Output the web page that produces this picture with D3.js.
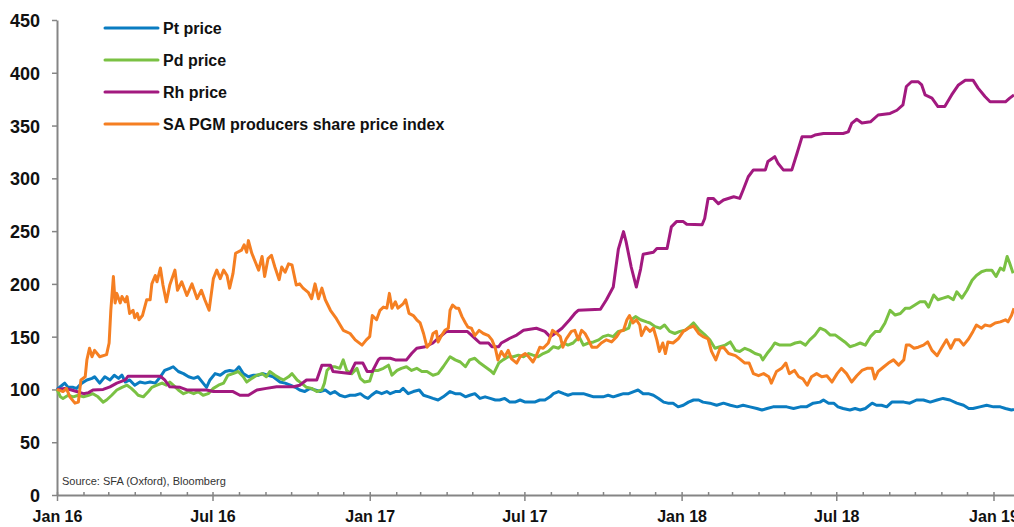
<!DOCTYPE html>
<html>
<head>
<meta charset="utf-8">
<script src="https://cdn.jsdelivr.net/npm/d3@7"></script>
<style>
  body { margin: 0; background: #fff; }
  svg { display: block; }
</style>
</head>
<body>
<div id="chart"></div>
<script>
// data: [days since 1 Jan 2016, index value (Jan 16 = 100)]
const ptPrice = [[0,100],[6,104],[9,106],[13,102],[19,102],[23,101],[29,106],[35,109],[41,110.5],[44,112],[50,106],[56,112],[62,109],[67,113.5],[72,110.5],[76,113.5],[80,107],[85,109],[91,104],[97,107],[103,106],[109,107],[115,106],[121,112],[126,118],[132,120],[136,121.5],[142,117],[148,115],[154,112],[160,110.5],[165,112],[171,106],[175,102],[179,109],[185,115],[191,113.5],[197,117],[202,118],[208,117],[213,121.5],[218,115],[224,112],[230,113.5],[236,113.5],[241,115],[247,113.5],[253,112],[261,107],[267,106],[273,104],[279,102],[284,99.5],[290,98],[296,101],[302,99.5],[308,98],[314,99.5],[320,96],[325,98],[331,94.5],[337,93],[343,94.5],[349,94.5],[355,96],[360,93],[364,91.5],[368,94.5],[374,98],[380,96],[386,98],[390,96],[396,98],[401,98],[405,101],[411,96],[417,98],[424,99.5],[429,94.5],[435,93],[440,91.5],[446,90],[452,93],[460,98],[466,96],[472,96],[478,93],[483,94.5],[489,96],[495,91.5],[501,93],[507,91.5],[513,90],[518,90],[524,91.5],[530,88],[536,88],[542,90],[548,88],[554,88],[559,88],[565,90],[571,90],[577,93],[581,96],[587,98],[593,96],[598,94.5],[604,96],[610,96],[616,96],[622,94.5],[628,93],[634,93],[639,93],[645,94.5],[651,93],[657,94.5],[663,96],[669,96],[675,98],[680,99.5],[686,96],[692,96],[698,94.5],[704,91.5],[710,88],[715,87],[721,87],[727,83.5],[733,85],[739,88],[745,90],[751,90],[756,88],[764,87],[772,85],[780,87],[788,85],[796,83.5],[803,85],[811,83.5],[819,82],[825,80.5],[831,82],[838,83.5],[846,83.5],[854,83.5],[862,82],[870,83.5],[877,83.5],[885,87],[893,88],[897,90],[903,87],[909,87],[914,83.5],[920,82],[928,80.5],[934,82],[940,80.5],[946,82],[954,87],[959,85],[965,85],[971,83.5],[977,88],[983,88],[991,88],[998,87],[1006,90],[1014,90],[1022,88],[1030,90],[1037,91.5],[1045,90],[1053,87],[1061,85],[1067,82],[1072,82],[1080,83.5],[1088,85],[1096,83.5],[1104,83.5],[1110,82],[1117,80.5],[1120,81]];

const pdPrice = [[0,100],[4,93],[7,91.5],[13,94.5],[19,93],[25,94.5],[31,93],[37,94.5],[42,96],[48,93],[54,88],[58,90],[64,94.5],[70,99.5],[76,102],[82,104],[87,101],[91,98],[95,94.5],[101,93],[107,98],[111,102],[117,104],[123,106],[128,104],[132,107],[136,104],[142,99.5],[148,96],[154,98],[160,96],[165,98],[171,94.5],[177,96],[183,101],[189,104],[195,106],[200,113.5],[206,115],[212,117],[218,112],[222,107],[228,110.5],[234,113.5],[240,115],[245,112],[249,117],[255,113.5],[261,110.5],[265,109],[271,112],[275,115],[281,109],[286,106],[292,102],[298,101],[304,98],[310,99.5],[313,106],[316,118],[320,121.5],[325,121.5],[331,120],[335,128],[339,118],[345,115],[351,120],[355,110.5],[360,107],[366,108],[370,118],[376,118],[382,120],[388,123],[392,113.5],[398,118],[403,120],[409,121.5],[415,118],[421,120],[427,117],[433,117],[440,113.5],[446,115],[452,121.5],[460,131],[466,128],[472,126],[478,121.5],[483,128],[489,129.5],[495,125],[501,121.5],[507,118],[511,115],[517,125],[522,128],[528,131],[534,131],[540,132.5],[546,131],[552,134],[557,132.5],[563,131],[569,134],[575,136],[581,140.5],[587,139],[593,144],[598,142],[604,144],[611,150],[616,142],[622,144],[628,145],[634,147],[639,150],[645,151.5],[651,150],[657,155],[663,156],[669,158],[672,166],[677,169],[683,166],[690,164],[694,163],[700,159.5],[706,158],[711,161],[717,155],[723,153],[729,155],[735,156],[741,160],[745,163],[751,157],[758,152],[764,147],[770,139],[776,140.5],[782,142],[788,145],[794,137],[799,136],[805,139],[811,137],[817,134],[823,132.5],[826,128],[831,134],[836,139],[840,144],[846,142],[852,142],[858,142],[864,144],[870,145],[876,142],[881,147],[887,151.5],[893,158],[899,156],[905,151.5],[911,151.5],[916,148.5],[922,145],[928,140.5],[934,142],[940,144],[946,142],[952,150],[958,155],[963,155],[969,163],[975,175],[981,170.5],[987,172],[993,177],[998,177],[1004,180],[1010,183],[1016,183],[1020,178],[1026,189.5],[1031,185],[1037,186.5],[1043,188],[1049,185],[1053,192.5],[1059,186.5],[1065,194],[1071,203.5],[1076,208],[1082,211.5],[1088,213],[1094,213],[1099,207],[1104,215],[1108,213],[1112,226],[1115,219.5],[1119,210]];

const rhPrice = [[0,100],[9,101],[17,99.5],[23,98],[31,96],[37,97],[42,99.5],[54,100],[62,102.5],[70,106],[80,109],[83,112.5],[121,112.5],[126,109],[132,102.5],[144,102],[152,99.5],[175,99.5],[183,98],[206,98],[214,94.5],[224,94.5],[234,99.5],[245,101],[257,102.5],[277,102.5],[284,104],[292,109],[304,109],[310,123],[320,123],[323,117],[343,115],[349,125],[358,125],[363,117],[369,117],[376,128],[378,129.5],[390,129.5],[396,128],[409,128],[415,134],[421,139],[431,140.5],[440,144],[446,148.5],[456,155],[480,155],[485,151.5],[491,147],[495,144],[505,144],[509,140.5],[517,140.5],[520,144],[530,148.5],[538,151.5],[546,156],[561,158],[571,155],[577,150],[583,153],[591,158],[600,166],[606,172],[610,175],[636,176],[643,185],[651,197],[657,233],[663,249.5],[666,240],[672,216],[678,197],[683,214],[686,228],[698,230],[702,233.5],[714,233.5],[719,254],[725,259],[733,259],[737,256.5],[755,256],[758,262],[762,281],[768,281],[774,276],[780,279.5],[792,282.5],[799,281],[803,289],[809,301.5],[815,308],[829,308],[832,316],[840,320.5],[844,314],[850,308],[860,308],[866,323.5],[872,339.5],[883,339.5],[887,341],[897,342.5],[920,342.5],[926,344],[930,352],[936,356],[942,352.5],[952,353.5],[961,360],[975,361.5],[983,364.5],[990,369.5],[994,387],[1000,391.5],[1008,391.5],[1012,388.5],[1016,379],[1024,376],[1031,368],[1039,368],[1047,379],[1055,388.5],[1063,393],[1072,393],[1078,385.5],[1086,377.5],[1092,372.5],[1110,372.5],[1115,376],[1120,379]];

const pgmIndex = [[0,100],[7,98],[11,101],[15,93],[21,87],[25,88],[28,109],[33,112],[35,128],[38,139],[41,131],[44,137],[50,131],[58,133],[61,144],[63,175],[66,207],[68,182],[70,191],[74,182],[76,188],[80,183],[82,188],[85,172],[89,175],[91,168],[94,172],[96,166],[100,170],[105,185],[109,185],[111,200],[115,208],[117,202],[121,215],[124,199],[128,183],[132,199],[138,213],[141,194],[146,202],[152,189],[158,200],[164,186],[169,194],[173,185],[178,175],[183,205],[187,213],[191,205],[195,213],[199,208],[202,196],[206,210],[209,229],[216,232],[219,237],[222,230],[224,241],[228,229],[232,221],[236,213],[240,226],[243,207],[247,224],[251,227],[255,216],[260,204],[263,216],[267,211],[271,219],[275,218],[280,199],[284,200],[288,196],[294,192],[298,186],[302,200],[306,186],[310,196],[314,185],[320,175],[327,167],[335,156],[343,153],[349,147],[357,142],[362,147],[366,150],[369,170],[374,166],[378,175],[382,178],[386,177],[389,191],[392,177],[396,183],[399,177],[405,181],[408,185],[412,172],[417,170],[421,166],[425,163],[429,153],[433,140],[437,144],[440,153],[444,155],[446,145],[450,151],[454,156],[458,158],[460,175],[463,180],[467,177],[470,177],[474,169],[478,163],[481,159],[485,158],[489,151],[494,156],[499,153],[505,151],[509,147],[513,139],[516,128],[520,136],[524,131],[528,137],[532,129],[538,125],[542,131],[548,134],[552,131],[557,126],[561,132],[565,140],[569,139],[575,144],[580,156],[585,153],[589,150],[592,140],[596,148],[602,155],[606,156],[610,147],[614,156],[618,153],[622,147],[626,140],[632,140],[637,144],[643,147],[649,145],[655,150],[659,155],[663,156],[667,166],[670,170],[674,163],[678,166],[682,161],[684,151],[689,159],[694,155],[698,158],[702,147],[705,136],[709,144],[712,134],[715,145],[721,144],[727,148],[733,155],[739,158],[745,160],[751,153],[756,150],[762,148],[766,136],[771,128],[776,139],[780,140],[786,134],[794,132],[799,129],[805,125],[810,125],[815,115],[821,113],[827,115],[833,112],[836,106],[842,117],[848,120],[853,125],[857,115],[863,118],[868,112],[873,110],[878,104],[883,112],[889,115],[895,112],[901,113],[907,107],[913,115],[918,120],[924,115],[930,107],[936,113],[942,118],[948,120],[954,120],[957,110],[961,117],[967,121],[973,125],[979,128],[985,123],[991,128],[994,142],[998,142],[1003,139],[1008,140],[1014,142],[1019,145],[1024,137],[1030,132],[1035,139],[1041,147],[1046,139],[1051,147],[1056,147],[1061,142],[1067,148],[1072,155],[1076,161],[1082,158],[1086,161],[1092,160],[1098,163],[1104,164],[1110,166],[1113,164],[1117,170],[1120,177]];

const seriesNames = ['Pt price', 'Pd price', 'Rh price', 'SA PGM producers share price index'];
const seriesData = [ptPrice, pdPrice, rhPrice, pgmIndex];
const seriesColors = ['#0a7cc1', '#7ac143', '#a2197f', '#f57f22'];
const yTicks = [0, 50, 100, 150, 200, 250, 300, 350, 400, 450];
const startDate = new Date(2016, 0, 1);
const endDate = new Date(2019, 0, 25);
const sourceText = 'Source: SFA (Oxford), Bloomberg';

const width = 1014;
const height = 527;
const margin = { top: 20, right: 0, bottom: 32, left: 57 };
const font = '"Liberation Sans", Arial, sans-serif';
const axisGrey = '#858585';

const svg = d3.select('#chart')
  .append('svg')
  .attr('width', width)
  .attr('height', height);

const x = d3.scaleTime()
  .domain([startDate, endDate])
  .range([margin.left, width - margin.right]);

const y = d3.scaleLinear()
  .domain([0, 450])
  .range([height - margin.bottom, margin.top]);

const day = n => d3.timeDay.offset(startDate, n);

// y axis
const yAxis = svg.append('g')
  .attr('transform', `translate(${margin.left},0)`)
  .call(d3.axisLeft(y).tickValues(yTicks).tickSize(5).tickPadding(12).tickSizeOuter(0));

yAxis.select('.domain').attr('stroke', axisGrey).attr('stroke-width', 2);
yAxis.selectAll('.tick line').attr('stroke', axisGrey).attr('stroke-width', 1.5);
yAxis.selectAll('.tick text')
  .style('font-family', font)
  .style('font-weight', 'bold')
  .style('font-size', '18px')
  .attr('fill', '#111')
  .attr('dy', '0.36em');

// x axis, monthly ticks, labels on Jan and Jul
const months = d3.timeMonth.range(startDate, endDate);
const isMajor = d => d.getMonth() === 0 || d.getMonth() === 6;

const xAxis = svg.append('g')
  .attr('transform', `translate(0,${y(0)})`)
  .call(d3.axisBottom(x)
    .tickValues(months)
    .tickSizeOuter(0)
    .tickFormat(d => isMajor(d) ? d3.timeFormat('%b %y')(d) : ''));

xAxis.select('.domain').attr('stroke', axisGrey).attr('stroke-width', 2);
xAxis.selectAll('.tick line')
  .attr('stroke', axisGrey)
  .attr('stroke-width', 1.5)
  .attr('y1', -3)
  .attr('y2', d => isMajor(d) ? 6 : 0);
xAxis.selectAll('.tick text')
  .attr('y', 27)
  .attr('dy', 0)
  .style('font-family', font)
  .style('font-weight', 'bold')
  .style('font-size', '16px')
  .attr('fill', '#111');

// lines
const line = d3.line()
  .x(d => x(day(d[0])))
  .y(d => y(d[1]));

svg.append('g')
  .selectAll('path')
  .data(seriesData)
  .join('path')
  .attr('d', line)
  .attr('fill', 'none')
  .attr('stroke', (d, i) => seriesColors[i])
  .attr('stroke-width', 3)
  .attr('stroke-linejoin', 'round');

// legend
const legend = svg.append('g')
  .selectAll('g')
  .data(seriesNames)
  .join('g')
  .attr('transform', (d, i) => `translate(105,${28 + i * 32})`);

legend.append('line')
  .attr('x1', 0)
  .attr('x2', 53)
  .attr('stroke', (d, i) => seriesColors[i])
  .attr('stroke-width', 3)
  .attr('stroke-linecap', 'round');

legend.append('text')
  .attr('x', 58)
  .attr('dy', '0.36em')
  .style('font-family', font)
  .style('font-weight', 'bold')
  .style('font-size', '16px')
  .attr('fill', '#111')
  .text(d => d);

// source note
svg.append('text')
  .attr('x', 62)
  .attr('y', 485)
  .style('font-family', font)
  .style('font-size', '11px')
  .attr('fill', '#333')
  .text(sourceText);
</script>
</body>
</html>
